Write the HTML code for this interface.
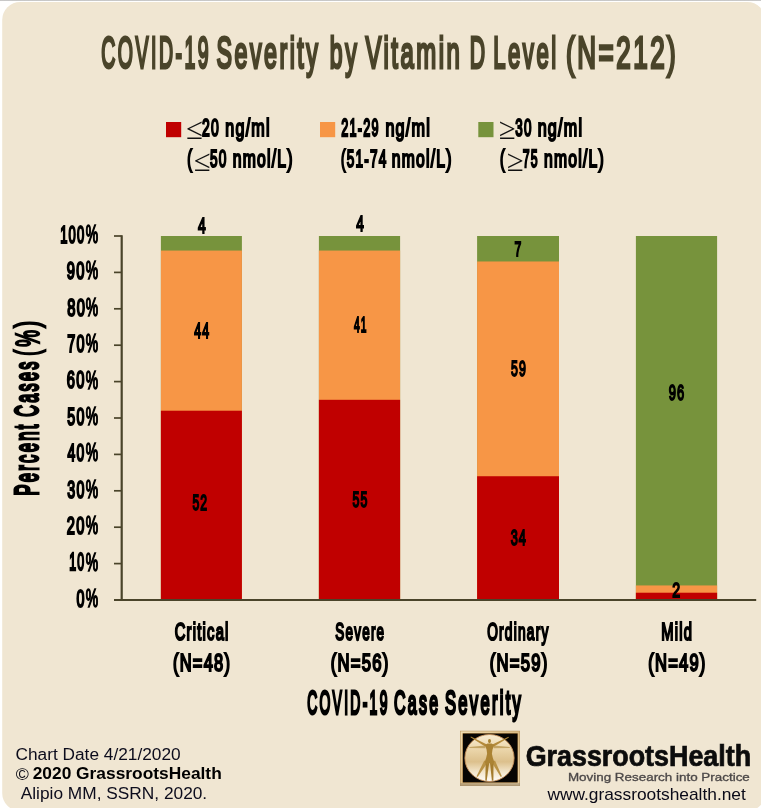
<!DOCTYPE html>
<html lang="en"><head><meta charset="utf-8"><title>COVID-19 Severity by Vitamin D Level (N=212)</title>
<style>html,body{margin:0;padding:0;background:#fff;overflow:hidden}svg{display:block}text{font-family:"Liberation Sans",sans-serif;white-space:pre}</style></head>
<body>
<svg width="761" height="808" viewBox="0 0 761 808" font-family="Liberation Sans, sans-serif">
<defs>
<linearGradient id="topg" x1="0" y1="0" x2="0" y2="1"><stop offset="0" stop-color="#c2c2c2"/><stop offset="0.55" stop-color="#cbcbcb"/><stop offset="1" stop-color="#ffffff"/></linearGradient>
<linearGradient id="goldb" x1="0" y1="0" x2="1" y2="1"><stop offset="0" stop-color="#f0dcb0"/><stop offset="0.5" stop-color="#dcbc84"/><stop offset="1" stop-color="#ead2a2"/></linearGradient>
<linearGradient id="circ" x1="0" y1="0" x2="0" y2="1"><stop offset="0" stop-color="#f8ecd2"/><stop offset="0.3" stop-color="#ecd7ac"/><stop offset="0.58" stop-color="#dcc08c"/><stop offset="0.8" stop-color="#f3e6cc"/><stop offset="1" stop-color="#fffcf8"/></linearGradient>
</defs>
<rect x="0" y="0" width="761" height="808" fill="#ffffff"/>
<rect x="0" y="0" width="761" height="1.4" fill="url(#topg)"/>
<rect x="2.2" y="2" width="763.1" height="809" rx="18" ry="18" fill="#f0e6d2"/>
<rect x="166" y="122" width="15.2" height="15.2" fill="#c00000"/>
<rect x="320" y="122" width="15.2" height="15.2" fill="#f79646"/>
<rect x="478.3" y="122" width="15.2" height="15.2" fill="#77933c"/>
<rect x="160.9" y="236.00" width="81.0" height="364.00" fill="#77933c"/>
<rect x="160.9" y="250.56" width="81.0" height="349.44" fill="#f79646"/>
<rect x="160.9" y="410.72" width="81.0" height="189.28" fill="#c00000"/>
<rect x="318.9" y="236.00" width="81.2" height="364.00" fill="#77933c"/>
<rect x="318.9" y="250.56" width="81.2" height="349.44" fill="#f79646"/>
<rect x="318.9" y="399.80" width="81.2" height="200.20" fill="#c00000"/>
<rect x="477.1" y="236.00" width="81.9" height="364.00" fill="#77933c"/>
<rect x="477.1" y="261.48" width="81.9" height="338.52" fill="#f79646"/>
<rect x="477.1" y="476.24" width="81.9" height="123.76" fill="#c00000"/>
<rect x="635.9" y="236.00" width="81.2" height="364.00" fill="#77933c"/>
<rect x="635.9" y="585.44" width="81.2" height="14.56" fill="#f79646"/>
<rect x="635.9" y="592.72" width="81.2" height="7.28" fill="#c00000"/>
<g stroke="#4a442a" fill="none">
<path d="M121.7 235.2 V601.0" stroke-width="2.2"/>
<path d="M114 600.0 H756.2" stroke-width="2.1"/>
<path d="M114 563.60 H121.7" stroke-width="1.7"/>
<path d="M114 527.20 H121.7" stroke-width="1.7"/>
<path d="M114 490.80 H121.7" stroke-width="1.7"/>
<path d="M114 454.40 H121.7" stroke-width="1.7"/>
<path d="M114 418.00 H121.7" stroke-width="1.7"/>
<path d="M114 381.60 H121.7" stroke-width="1.7"/>
<path d="M114 345.20 H121.7" stroke-width="1.7"/>
<path d="M114 308.80 H121.7" stroke-width="1.7"/>
<path d="M114 272.40 H121.7" stroke-width="1.7"/>
<path d="M114 236.00 H121.7" stroke-width="1.7"/>
</g>
<g transform="translate(101.17,67.85) scale(0.4353,1)"><text font-size="44.86" letter-spacing="5.74" fill="#4a442a" stroke="#4a442a" stroke-width="2.5" vector-effect="non-scaling-stroke" stroke-linejoin="miter">COVID-19</text></g>
<g transform="translate(216.49,67.85) scale(0.5179,1)"><text font-size="44.86" letter-spacing="4.83" fill="#4a442a" stroke="#4a442a" stroke-width="2.5" vector-effect="non-scaling-stroke" stroke-linejoin="miter">Severity</text></g>
<g transform="translate(329.86,67.85) scale(0.5143,1)"><text font-size="44.86" letter-spacing="4.86" fill="#4a442a" stroke="#4a442a" stroke-width="2.5" vector-effect="non-scaling-stroke" stroke-linejoin="miter">by</text></g>
<g transform="translate(365.51,67.85) scale(0.5334,1)"><text font-size="44.86" letter-spacing="4.69" fill="#4a442a" stroke="#4a442a" stroke-width="2.5" vector-effect="non-scaling-stroke" stroke-linejoin="miter">Vitamin</text></g>
<g transform="translate(469.72,67.85) scale(0.4736,1)"><text font-size="44.86" letter-spacing="5.28" fill="#4a442a" stroke="#4a442a" stroke-width="2.5" vector-effect="non-scaling-stroke" stroke-linejoin="miter">D</text></g>
<g transform="translate(493.27,67.85) scale(0.4928,1)"><text font-size="44.86" letter-spacing="5.07" fill="#4a442a" stroke="#4a442a" stroke-width="2.5" vector-effect="non-scaling-stroke" stroke-linejoin="miter">Level</text></g>
<g transform="translate(565.98,67.85) scale(0.5808,1)"><text font-size="44.86" letter-spacing="4.30" fill="#4a442a" stroke="#4a442a" stroke-width="2.5" vector-effect="non-scaling-stroke" stroke-linejoin="miter">(N=212)</text></g>
<g transform="translate(202.07,135.90) scale(0.5735,1)"><text font-size="24.43" letter-spacing="2.14" fill="#000" stroke="#000" stroke-width="1.8" vector-effect="non-scaling-stroke" stroke-linejoin="miter">20</text></g>
<g transform="translate(225.28,135.90) scale(0.6597,1)"><text font-size="24.43" letter-spacing="1.86" fill="#000" stroke="#000" stroke-width="1.8" vector-effect="non-scaling-stroke" stroke-linejoin="miter">ng/ml</text></g>
<g transform="translate(187.30,167.10) scale(0.5873,1)"><text font-size="24.43" letter-spacing="2.09" fill="#000" stroke="#000" stroke-width="1.8" vector-effect="non-scaling-stroke" stroke-linejoin="miter">(</text></g>
<g transform="translate(210.02,167.10) scale(0.5605,1)"><text font-size="24.43" letter-spacing="2.19" fill="#000" stroke="#000" stroke-width="1.8" vector-effect="non-scaling-stroke" stroke-linejoin="miter">50</text></g>
<g transform="translate(232.70,167.10) scale(0.6438,1)"><text font-size="24.43" letter-spacing="1.91" fill="#000" stroke="#000" stroke-width="1.8" vector-effect="non-scaling-stroke" stroke-linejoin="miter">nmol/L)</text></g>
<g transform="translate(341.19,135.90) scale(0.5201,1)"><text font-size="24.43" letter-spacing="2.36" fill="#000" stroke="#000" stroke-width="1.8" vector-effect="non-scaling-stroke" stroke-linejoin="miter">21-29</text></g>
<g transform="translate(385.38,135.90) scale(0.6624,1)"><text font-size="24.43" letter-spacing="1.85" fill="#000" stroke="#000" stroke-width="1.8" vector-effect="non-scaling-stroke" stroke-linejoin="miter">ng/ml</text></g>
<g transform="translate(341.02,167.10) scale(0.5555,1)"><text font-size="24.43" letter-spacing="2.21" fill="#000" stroke="#000" stroke-width="1.8" vector-effect="non-scaling-stroke" stroke-linejoin="miter">(51-74</text></g>
<g transform="translate(391.70,167.10) scale(0.6431,1)"><text font-size="24.43" letter-spacing="1.91" fill="#000" stroke="#000" stroke-width="1.8" vector-effect="non-scaling-stroke" stroke-linejoin="miter">nmol/L)</text></g>
<g transform="translate(515.22,135.90) scale(0.5492,1)"><text font-size="24.43" letter-spacing="2.24" fill="#000" stroke="#000" stroke-width="1.8" vector-effect="non-scaling-stroke" stroke-linejoin="miter">30</text></g>
<g transform="translate(537.68,135.90) scale(0.6597,1)"><text font-size="24.43" letter-spacing="1.86" fill="#000" stroke="#000" stroke-width="1.8" vector-effect="non-scaling-stroke" stroke-linejoin="miter">ng/ml</text></g>
<g transform="translate(500.10,167.10) scale(0.5873,1)"><text font-size="24.43" letter-spacing="2.09" fill="#000" stroke="#000" stroke-width="1.8" vector-effect="non-scaling-stroke" stroke-linejoin="miter">(</text></g>
<g transform="translate(522.78,167.10) scale(0.5038,1)"><text font-size="24.43" letter-spacing="2.44" fill="#000" stroke="#000" stroke-width="1.8" vector-effect="non-scaling-stroke" stroke-linejoin="miter">75</text></g>
<g transform="translate(544.00,167.10) scale(0.6432,1)"><text font-size="24.43" letter-spacing="1.91" fill="#000" stroke="#000" stroke-width="1.8" vector-effect="non-scaling-stroke" stroke-linejoin="miter">nmol/L)</text></g>
<g transform="translate(76.61,606.80) scale(0.5837,1)"><text font-size="24.43" letter-spacing="2.10" fill="#000" stroke="#000" stroke-width="1.8" vector-effect="non-scaling-stroke" stroke-linejoin="miter">0</text></g>
<g transform="translate(85.65,607.05) scale(0.5537,1)"><text font-size="25.14" letter-spacing="2.22" fill="#000" stroke="#000" stroke-width="1.3" vector-effect="non-scaling-stroke" stroke-linejoin="miter">%</text></g>
<g transform="translate(69.20,570.40) scale(0.5061,1)"><text font-size="24.43" letter-spacing="2.43" fill="#000" stroke="#000" stroke-width="1.8" vector-effect="non-scaling-stroke" stroke-linejoin="miter">10</text></g>
<g transform="translate(85.65,570.65) scale(0.5537,1)"><text font-size="25.14" letter-spacing="2.22" fill="#000" stroke="#000" stroke-width="1.3" vector-effect="non-scaling-stroke" stroke-linejoin="miter">%</text></g>
<g transform="translate(66.86,534.00) scale(0.5994,1)"><text font-size="24.43" letter-spacing="2.05" fill="#000" stroke="#000" stroke-width="1.8" vector-effect="non-scaling-stroke" stroke-linejoin="miter">20</text></g>
<g transform="translate(85.65,534.25) scale(0.5537,1)"><text font-size="25.14" letter-spacing="2.22" fill="#000" stroke="#000" stroke-width="1.3" vector-effect="non-scaling-stroke" stroke-linejoin="miter">%</text></g>
<g transform="translate(67.32,497.60) scale(0.5821,1)"><text font-size="24.43" letter-spacing="2.11" fill="#000" stroke="#000" stroke-width="1.8" vector-effect="non-scaling-stroke" stroke-linejoin="miter">30</text></g>
<g transform="translate(85.65,497.85) scale(0.5537,1)"><text font-size="25.14" letter-spacing="2.22" fill="#000" stroke="#000" stroke-width="1.3" vector-effect="non-scaling-stroke" stroke-linejoin="miter">%</text></g>
<g transform="translate(67.51,461.20) scale(0.5673,1)"><text font-size="24.43" letter-spacing="2.17" fill="#000" stroke="#000" stroke-width="1.8" vector-effect="non-scaling-stroke" stroke-linejoin="miter">40</text></g>
<g transform="translate(85.65,461.45) scale(0.5537,1)"><text font-size="25.14" letter-spacing="2.22" fill="#000" stroke="#000" stroke-width="1.3" vector-effect="non-scaling-stroke" stroke-linejoin="miter">%</text></g>
<g transform="translate(67.32,424.80) scale(0.5831,1)"><text font-size="24.43" letter-spacing="2.11" fill="#000" stroke="#000" stroke-width="1.8" vector-effect="non-scaling-stroke" stroke-linejoin="miter">50</text></g>
<g transform="translate(85.65,425.05) scale(0.5537,1)"><text font-size="25.14" letter-spacing="2.22" fill="#000" stroke="#000" stroke-width="1.3" vector-effect="non-scaling-stroke" stroke-linejoin="miter">%</text></g>
<g transform="translate(66.84,388.40) scale(0.6011,1)"><text font-size="24.43" letter-spacing="2.04" fill="#000" stroke="#000" stroke-width="1.8" vector-effect="non-scaling-stroke" stroke-linejoin="miter">60</text></g>
<g transform="translate(85.65,388.65) scale(0.5537,1)"><text font-size="25.14" letter-spacing="2.22" fill="#000" stroke="#000" stroke-width="1.3" vector-effect="non-scaling-stroke" stroke-linejoin="miter">%</text></g>
<g transform="translate(67.18,352.00) scale(0.5912,1)"><text font-size="24.43" letter-spacing="2.08" fill="#000" stroke="#000" stroke-width="1.8" vector-effect="non-scaling-stroke" stroke-linejoin="miter">70</text></g>
<g transform="translate(85.65,352.25) scale(0.5537,1)"><text font-size="25.14" letter-spacing="2.22" fill="#000" stroke="#000" stroke-width="1.3" vector-effect="non-scaling-stroke" stroke-linejoin="miter">%</text></g>
<g transform="translate(67.30,315.60) scale(0.6019,1)"><text font-size="24.43" letter-spacing="2.04" fill="#000" stroke="#000" stroke-width="1.8" vector-effect="non-scaling-stroke" stroke-linejoin="miter">80</text></g>
<g transform="translate(85.65,315.85) scale(0.5537,1)"><text font-size="25.14" letter-spacing="2.22" fill="#000" stroke="#000" stroke-width="1.3" vector-effect="non-scaling-stroke" stroke-linejoin="miter">%</text></g>
<g transform="translate(66.83,279.20) scale(0.6027,1)"><text font-size="24.43" letter-spacing="2.04" fill="#000" stroke="#000" stroke-width="1.8" vector-effect="non-scaling-stroke" stroke-linejoin="miter">90</text></g>
<g transform="translate(85.65,279.45) scale(0.5537,1)"><text font-size="25.14" letter-spacing="2.22" fill="#000" stroke="#000" stroke-width="1.3" vector-effect="non-scaling-stroke" stroke-linejoin="miter">%</text></g>
<g transform="translate(60.17,242.80) scale(0.5317,1)"><text font-size="24.43" letter-spacing="2.31" fill="#000" stroke="#000" stroke-width="1.8" vector-effect="non-scaling-stroke" stroke-linejoin="miter">100</text></g>
<g transform="translate(85.65,243.05) scale(0.5537,1)"><text font-size="25.14" letter-spacing="2.22" fill="#000" stroke="#000" stroke-width="1.3" vector-effect="non-scaling-stroke" stroke-linejoin="miter">%</text></g>
<g transform="translate(197.97,233.05) scale(0.6453,1)"><text font-size="21.57" letter-spacing="1.67" fill="#000" stroke="#000" stroke-width="1.5" vector-effect="non-scaling-stroke" stroke-linejoin="miter">4</text></g>
<g transform="translate(356.27,231.15) scale(0.6324,1)"><text font-size="21.57" letter-spacing="1.71" fill="#000" stroke="#000" stroke-width="1.5" vector-effect="non-scaling-stroke" stroke-linejoin="miter">4</text></g>
<g transform="translate(514.47,255.85) scale(0.5806,1)"><text font-size="21.00" letter-spacing="1.81" fill="#000" stroke="#000" stroke-width="1.5" vector-effect="non-scaling-stroke" stroke-linejoin="miter">7</text></g>
<g transform="translate(194.21,337.50) scale(0.5651,1)"><text font-size="21.86" letter-spacing="1.93" fill="#000" stroke="#000" stroke-width="1.5" vector-effect="non-scaling-stroke" stroke-linejoin="miter">44</text></g>
<g transform="translate(354.04,332.05) scale(0.4715,1)"><text font-size="21.86" letter-spacing="2.32" fill="#000" stroke="#000" stroke-width="1.5" vector-effect="non-scaling-stroke" stroke-linejoin="miter">41</text></g>
<g transform="translate(511.01,376.05) scale(0.5656,1)"><text font-size="21.86" letter-spacing="1.93" fill="#000" stroke="#000" stroke-width="1.5" vector-effect="non-scaling-stroke" stroke-linejoin="miter">59</text></g>
<g transform="translate(668.72,400.25) scale(0.5975,1)"><text font-size="21.57" letter-spacing="1.81" fill="#000" stroke="#000" stroke-width="1.5" vector-effect="non-scaling-stroke" stroke-linejoin="miter">96</text></g>
<g transform="translate(192.41,510.25) scale(0.5573,1)"><text font-size="21.86" letter-spacing="1.96" fill="#000" stroke="#000" stroke-width="1.5" vector-effect="non-scaling-stroke" stroke-linejoin="miter">52</text></g>
<g transform="translate(352.61,507.15) scale(0.5649,1)"><text font-size="22.00" letter-spacing="1.94" fill="#000" stroke="#000" stroke-width="1.5" vector-effect="non-scaling-stroke" stroke-linejoin="miter">55</text></g>
<g transform="translate(510.71,545.25) scale(0.5772,1)"><text font-size="22.00" letter-spacing="1.90" fill="#000" stroke="#000" stroke-width="1.5" vector-effect="non-scaling-stroke" stroke-linejoin="miter">34</text></g>
<g transform="translate(672.34,597.45) scale(0.6718,1)"><text font-size="21.14" letter-spacing="1.58" fill="#000" stroke="#000" stroke-width="1.5" vector-effect="non-scaling-stroke" stroke-linejoin="miter">2</text></g>
<g transform="translate(174.73,640.30) scale(0.6035,1)"><text font-size="24.43" letter-spacing="2.04" fill="#000" stroke="#000" stroke-width="1.8" vector-effect="non-scaling-stroke" stroke-linejoin="miter">Critical</text></g>
<g transform="translate(173.05,671.40) scale(0.6730,1)"><text font-size="24.43" letter-spacing="1.83" fill="#000" stroke="#000" stroke-width="1.8" vector-effect="non-scaling-stroke" stroke-linejoin="miter">(N=48)</text></g>
<g transform="translate(335.31,640.30) scale(0.5512,1)"><text font-size="24.43" letter-spacing="2.23" fill="#000" stroke="#000" stroke-width="1.8" vector-effect="non-scaling-stroke" stroke-linejoin="miter">Severe</text></g>
<g transform="translate(330.84,671.40) scale(0.6820,1)"><text font-size="24.43" letter-spacing="1.80" fill="#000" stroke="#000" stroke-width="1.8" vector-effect="non-scaling-stroke" stroke-linejoin="miter">(N=56)</text></g>
<g transform="translate(487.17,640.30) scale(0.5614,1)"><text font-size="24.43" letter-spacing="2.19" fill="#000" stroke="#000" stroke-width="1.8" vector-effect="non-scaling-stroke" stroke-linejoin="miter">Ordinary</text></g>
<g transform="translate(489.74,671.40) scale(0.6820,1)"><text font-size="24.43" letter-spacing="1.80" fill="#000" stroke="#000" stroke-width="1.8" vector-effect="non-scaling-stroke" stroke-linejoin="miter">(N=59)</text></g>
<g transform="translate(661.25,640.30) scale(0.6037,1)"><text font-size="24.43" letter-spacing="2.03" fill="#000" stroke="#000" stroke-width="1.8" vector-effect="non-scaling-stroke" stroke-linejoin="miter">Mild</text></g>
<g transform="translate(648.25,671.40) scale(0.6767,1)"><text font-size="24.43" letter-spacing="1.82" fill="#000" stroke="#000" stroke-width="1.8" vector-effect="non-scaling-stroke" stroke-linejoin="miter">(N=49)</text></g>
<g transform="translate(307.14,714.30) scale(0.4253,1)"><text font-size="32.71" letter-spacing="5.41" fill="#000" stroke="#000" stroke-width="2.4" vector-effect="non-scaling-stroke" stroke-linejoin="miter">COVID-19</text></g>
<g transform="translate(394.01,714.30) scale(0.4868,1)"><text font-size="32.71" letter-spacing="4.72" fill="#000" stroke="#000" stroke-width="2.4" vector-effect="non-scaling-stroke" stroke-linejoin="miter">Case</text></g>
<g transform="translate(445.02,714.30) scale(0.5063,1)"><text font-size="32.71" letter-spacing="4.54" fill="#000" stroke="#000" stroke-width="2.4" vector-effect="non-scaling-stroke" stroke-linejoin="miter">Severity</text></g>
<g transform="translate(39.5,495.0) rotate(-90)"><g transform="translate(-0.60,-1.20) scale(0.5019,1)"><text font-size="33.00" letter-spacing="4.58" fill="#000" stroke="#000" stroke-width="2.4" vector-effect="non-scaling-stroke" stroke-linejoin="miter">Percent</text></g></g>
<g transform="translate(39.5,416.2) rotate(-90)"><g transform="translate(-0.49,-1.20) scale(0.4896,1)"><text font-size="33.00" letter-spacing="4.70" fill="#000" stroke="#000" stroke-width="2.4" vector-effect="non-scaling-stroke" stroke-linejoin="miter">Cases</text></g></g>
<g transform="translate(39.5,354.9) rotate(-90)"><g transform="translate(-0.67,-1.10) scale(0.4948,1)"><text font-size="33.29" letter-spacing="3.35" fill="#000" stroke="#000" stroke-width="2.2" vector-effect="non-scaling-stroke" stroke-linejoin="miter">(</text></g></g>
<g transform="translate(39.5,346.8) rotate(-90)"><g transform="translate(0.00,-1.00) scale(0.5606,1)"><text font-size="33.57" letter-spacing="2.96" fill="#000" stroke="#000" stroke-width="2.0" vector-effect="non-scaling-stroke" stroke-linejoin="miter">%</text></g></g>
<g transform="translate(39.5,328.8) rotate(-90)"><g transform="translate(1.19,-1.10) scale(0.5914,1)"><text font-size="33.29" letter-spacing="2.80" fill="#000" stroke="#000" stroke-width="2.2" vector-effect="non-scaling-stroke" stroke-linejoin="miter">)</text></g></g>
<g transform="translate(15.42,759.70) scale(1.0525,1)"><text font-size="16.43" fill="#0c0c1c">Chart Date 4/21/2020</text></g>
<g transform="translate(15.70,780.10) scale(1.1325,1)"><text font-size="15.71" fill="#0a0a14">©</text></g>
<g transform="translate(32.68,779.10) scale(1.1057,1)"><text font-size="15.71" font-weight="bold" fill="#000">2020 GrassrootsHealth</text></g>
<g transform="translate(20.73,798.80) scale(1.0618,1)"><text font-size="16.29" fill="#0c0c1c">Alipio MM, SSRN, 2020.</text></g>
<g transform="translate(525.65,765.85) scale(0.9362,1)"><text font-size="28.71" font-weight="bold" fill="#0c0c0c" stroke="#0c0c0c" stroke-width="0.7" vector-effect="non-scaling-stroke" stroke-linejoin="miter">GrassrootsHealth</text></g>
<g transform="translate(567.89,780.62) scale(1.1386,1)"><text font-size="11.79" fill="#4c4848" stroke="#4c4848" stroke-width="0.35" vector-effect="non-scaling-stroke" stroke-linejoin="miter">Moving Research into Practice</text></g>
<g transform="translate(547.38,800.20) scale(1.0711,1)"><text font-size="16.20" fill="#0a0a18">www.grassrootshealth.net</text></g>
<text x="186.3" y="139.2" font-size="30.7" font-family="Liberation Serif, serif" style="font-family:'Liberation Serif',serif" fill="#111">≤</text>
<text x="193.9" y="171.1" font-size="30.7" font-family="Liberation Serif, serif" style="font-family:'Liberation Serif',serif" fill="#111">≤</text>
<text x="499.0" y="139.4" font-size="30.7" font-family="Liberation Serif, serif" style="font-family:'Liberation Serif',serif" fill="#111">≥</text>
<text x="506.9" y="171.3" font-size="30.7" font-family="Liberation Serif, serif" style="font-family:'Liberation Serif',serif" fill="#111">≥</text>
<g id="logo">
<rect x="460" y="730.8" width="59.9" height="55.2" fill="#b08c58"/>
<rect x="460.5" y="731.3" width="58.9" height="54.2" fill="url(#goldb)"/>
<rect x="460" y="783.2" width="59.9" height="2.8" fill="#9c8a70" opacity="0.6"/>
<rect x="462.5" y="733.2" width="55.3" height="49.4" fill="#a87a3c"/>
<rect x="462.9" y="733.6" width="54.6" height="48.7" fill="#070503"/>
<ellipse cx="489.5" cy="758" rx="24.6" ry="23.5" fill="url(#circ)" stroke="#c9925a" stroke-width="0.9"/>
<polygon points="485.4,745.5 469.4,747.0 469.4,748.1 485.6,748.2" fill="#c4a565"/>
<polygon points="493.5,748.2 509.8,748.1 509.8,747.0 493.6,745.5" fill="#c4a565"/>
<polygon points="486.9,744.4 470.9,736.5 470.5,737.2 485.5,746.8" fill="#b48a3a"/>
<polygon points="493.6,746.8 508.9,737.5 508.5,736.8 492.4,744.4" fill="#b48a3a"/>
<polygon points="484.3,760.5 476.5,776.3 477.6,776.9 487.6,762.4" fill="#b99245"/>
<polygon points="491.7,762.3 500.8,776.9 501.9,776.3 495.0,760.5" fill="#b99245"/>
<polygon points="485.7,762.2 485.3,780.6 486.7,780.7 489.2,762.4" fill="#a47c2e"/>
<polygon points="490.0,762.4 491.9,780.7 493.4,780.6 493.5,762.2" fill="#a47c2e"/>
<polygon points="485.1,744.9 487.5,743.6 491.6,743.6 494.1,744.9 492.5,749.8 491.9,753.8 492.8,757.8 494.4,762.3 491.7,765.0 489.6,762.9 487.3,765.0 484.6,762.3 486.2,757.8 487.1,753.8 486.6,749.8" fill="#ab8334"/>
<ellipse cx="489.5" cy="741.1" rx="1.5" ry="2.1" fill="#a98232"/>
</g>
</svg>
</body></html>
